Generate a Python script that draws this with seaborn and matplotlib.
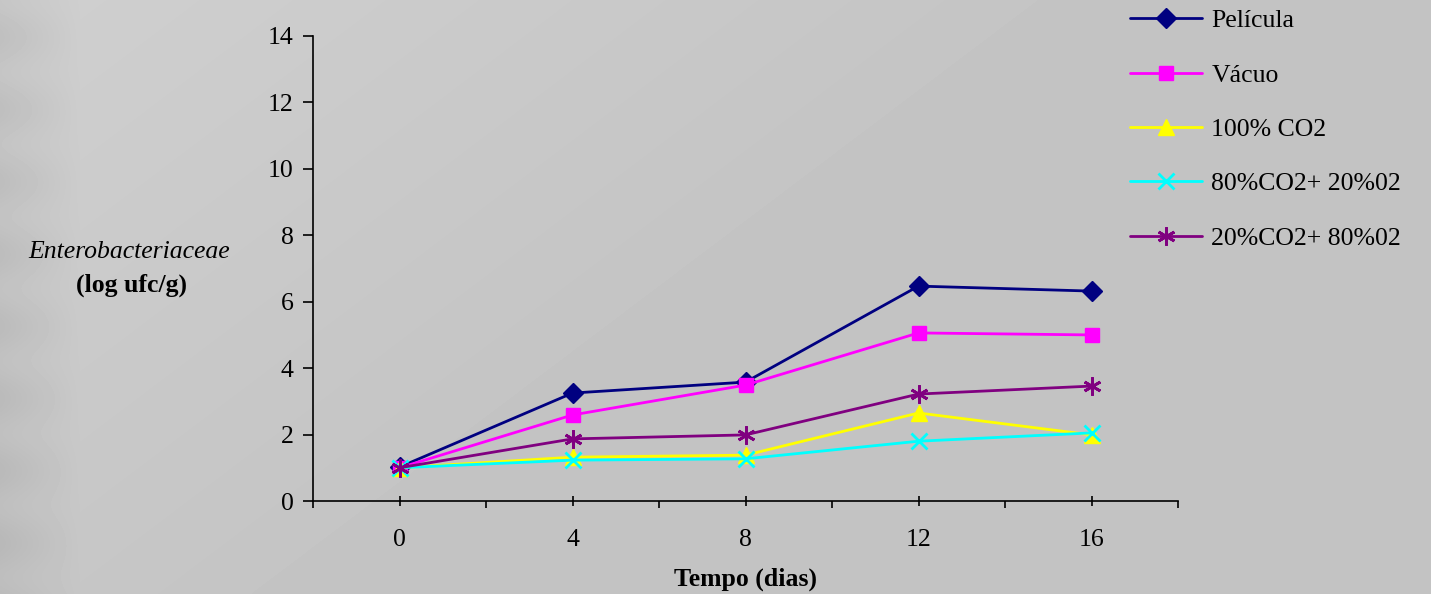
import numpy as np
import pandas as pd
import matplotlib
matplotlib.use("Agg")
import matplotlib.pyplot as plt
import seaborn as sns

# ---- data ----
days = ["0", "4", "8", "12", "16"]
pelicula = [1.02, 3.25, 3.58, 6.47, 6.32]
vacuo = [1.00, 2.59, 3.49, 5.06, 5.00]
co2_100 = [1.00, 1.32, 1.38, 2.65, 1.99]
co2_80_o2_20 = [1.00, 1.23, 1.27, 1.80, 2.05]
co2_20_o2_80 = [1.00, 1.87, 1.99, 3.22, 3.46]

series_names = ["Película", "Vácuo", "100% CO2", "80%CO2+ 20%02", "20%CO2+ 80%02"]
series_values = [pelicula, vacuo, co2_100, co2_80_o2_20, co2_20_o2_80]
colors = ["#000080", "#FF00FF", "#FFFF00", "#00FFFF", "#800080"]
markers = ["D", "s", "^", "x", (6, 2, 0)]
msizes = [10, 10, 11, 11, 13]

sns.set_theme(style="white")
plt.rcParams["font.family"] = ["Liberation Serif", "DejaVu Serif"]
plt.rcParams["text.color"] = "black"
plt.rcParams["xtick.color"] = "black"
plt.rcParams["ytick.color"] = "black"

FS = 18.5

fig = plt.figure(figsize=(14.31, 5.94), dpi=100)
fig.patch.set_facecolor("#c4c4c4")

# background gradient (decorative)
bg = fig.add_axes([0, 0, 1, 1], zorder=-10)
H, W = 594, 1431
yy, xx = np.mgrid[0:H, 0:W]
d = (xx / W) + (yy / H) * 0.55
light = np.clip(1 - d / 0.75, 0, 1)
val = 0.768 + 0.045 * light
strip = np.clip(1 - xx / 80.0, 0, 1)
val = val - 0.06 * strip * (0.6 + 0.4 * np.sin(yy / 23.0) ** 2)
bg.imshow(val, cmap="gray", vmin=0, vmax=1, aspect="auto", extent=[0, 1, 0, 1])
bg.axis("off")

ax = fig.add_axes([313 / 1431, 1 - 501 / 594, (1178 - 313) / 1431, (501 - 36) / 594])
ax.set_facecolor("none")

pos = np.arange(len(days))
for name, vals, c, m, ms in zip(series_names, series_values, colors, markers, msizes):
    df = pd.DataFrame({"x": pos, "y": vals})
    sns.lineplot(data=df, x="x", y="y", ax=ax, color=c, marker=m, markersize=ms,
                 markeredgecolor=c, markeredgewidth=2 if m in ("x", (6, 2, 0)) else 1,
                 linewidth=2, label=name, legend=False)

ax.set_xlim(-0.5, len(days) - 0.5)
ax.set_ylim(0, 14)
ax.set_yticks(np.arange(0, 15, 2))
ax.set_xticks(pos)
ax.set_xticklabels(days)
ax.set_xticks(np.arange(-0.5, len(days), 1.0), minor=True)

for s in ["top", "right"]:
    ax.spines[s].set_visible(False)
for s in ["left", "bottom"]:
    ax.spines[s].set_color("black")
    ax.spines[s].set_linewidth(1.2)

ax.tick_params(axis="y", which="major", direction="out", length=7, width=1.2,
               color="black", labelsize=FS, labelcolor="black", pad=7, left=True)
ax.tick_params(axis="x", which="major", direction="inout", length=7, width=1.2,
               color="black", labelsize=FS, labelcolor="black", pad=17, bottom=True)
ax.tick_params(axis="x", which="minor", direction="out", length=5, width=1.2,
               color="black", bottom=True)
ax.set_xlabel("")
ax.set_ylabel("")

fig.text(129 / 1431, 1 - 252 / 594, "Enterobacteriaceae", style="italic",
         fontsize=FS, ha="center", va="center", color="black")
fig.text(132 / 1431, 1 - 285 / 594, "(log ufc/g)", weight="bold",
         fontsize=FS, ha="center", va="center", color="black")
fig.text(745 / 1431, 1 - 579 / 594, "Tempo (dias)", weight="bold",
         fontsize=FS, ha="center", va="center", color="black")

handles, labels = ax.get_legend_handles_labels()
leg = fig.legend(handles, labels, loc="upper left",
                 bbox_to_anchor=(1120 / 1431, 1 + 1 / 594),
                 frameon=False, fontsize=FS, handlelength=2.8,
                 handletextpad=0.35, labelspacing=1.22, borderaxespad=0)
for t in leg.get_texts():
    t.set_color("black")

fig.savefig("out.png", dpi=100, facecolor=fig.get_facecolor())
